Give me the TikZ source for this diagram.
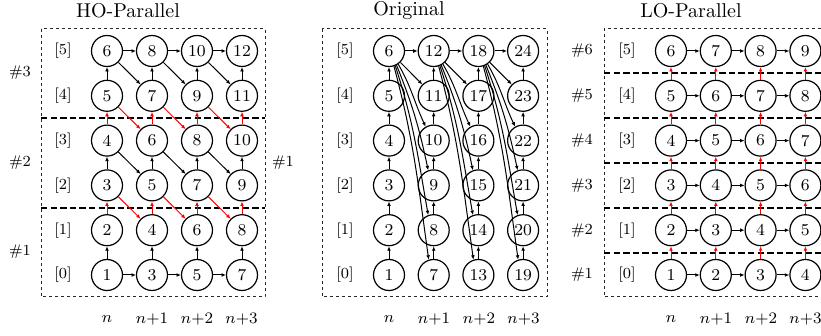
\documentclass[tikz,border=0pt]{standalone}
\usetikzlibrary{arrows.meta}
\tikzset{
  st/.style={circle, draw, line width=0.6pt, minimum size=15.5pt, inner sep=0pt,
             font=\fontsize{8.3}{10}\selectfont},
  lab/.style={font=\fontsize{7.7}{9}\selectfont, inner sep=0pt},
  ttl/.style={font=\fontsize{10}{12}\selectfont, inner sep=0pt},
  arr/.style={-{Latex[length=2.2pt,width=1.9pt]}, line width=0.5pt},
  frame/.style={dash pattern=on 1.6pt off 1.4pt, line width=0.5pt, black!85},
  divide/.style={dash pattern=on 3.2pt off 1.6pt, line width=0.7pt},
}
\begin{document}
\begin{tikzpicture}[x=0.5pt,y=-0.5pt]
\useasboundingbox (0,0) rectangle (821,336);
\clip (0,0) rectangle (821,336);

% ---------------- HO-Parallel ----------------
\node[ttl] (tH) at (128,11) {HO-Parallel};
\draw[frame] (41,29) rectangle (265,297);
\draw[divide] (41,118) -- (265,118);
\draw[divide] (41,208) -- (265,208);
\foreach \r in {0,...,5} {
  \node[lab] (rH-\r) at (63,{51+44.8*(5-\r)}) {[\r]};
  \foreach \c in {0,...,3} {
    \pgfmathtruncatemacro\v{\r+1+2*\c}
    \node[st] (H-\r-\c) at ({107+45*\c},{51+44.8*(5-\r)}) {\v};
  }
}
\node[lab] (hH-3) at (20,73) {\#3};
\node[lab] (hH-2) at (20,163) {\#2};
\node[lab] (hH-1) at (20,252) {\#1};
% vertical steps, red where a group boundary is crossed
\foreach \r/\col in {0/black,1/red,2/black,3/red,4/black} {
  \pgfmathtruncatemacro\rn{\r+1}
  \foreach \c in {0,...,3} {
    \draw[arr,color=\col] (H-\r-\c.north) -- (H-\rn-\c.south);
  }
}
% diagonal steps
\foreach \r/\col in {2/red,3/black,4/red,5/black} {
  \pgfmathtruncatemacro\rm{\r-1}
  \foreach \c in {0,1,2} {
    \pgfmathtruncatemacro\cn{\c+1}
    \draw[arr,color=\col] (H-\r-\c.-45) -- (H-\rm-\cn.135);
  }
}
% horizontal steps in bottom and top rows
\foreach \r in {0,5} {
  \foreach \c in {0,1,2} {
    \pgfmathtruncatemacro\cn{\c+1}
    \draw[arr] (H-\r-\c.east) -- (H-\r-\cn.west);
  }
}

% ---------------- Original ----------------
\node[ttl] (tO) at (409,11) {Original};
\draw[frame] (322,29) rectangle (547,297);
\foreach \r in {0,...,5} {
  \node[lab] (rO-\r) at (345,{51+44.8*(5-\r)}) {[\r]};
  \foreach \c in {0,...,3} {
    \pgfmathtruncatemacro\v{6*\c+\r+1}
    \node[st] (O-\r-\c) at ({389+44.7*\c},{51+44.8*(5-\r)}) {\v};
  }
}
\node[lab] (hO-1) at (283,163) {\#1};
\foreach \r in {0,...,4} {
  \pgfmathtruncatemacro\rn{\r+1}
  \foreach \c in {0,...,3} {
    \draw[arr] (O-\r-\c.north) -- (O-\rn-\c.south);
  }
}
% fan from the top of each column to every node of the next column
\foreach \c in {0,1,2} {
  \pgfmathtruncatemacro\cn{\c+1}
  \draw[arr] (O-5-\c.east) -- (O-5-\cn.west);
  \draw[arr] (O-5-\c.-45) -- (O-4-\cn.135);
  \draw[arr] (O-5-\c.-55) to[out=-60,in=115] (O-3-\cn.120);
  \draw[arr] (O-5-\c.-62) to[out=-68,in=102] (O-2-\cn.110);
  \draw[arr] (O-5-\c.-67) to[out=-72,in=100] (O-1-\cn.110);
  \draw[arr] (O-5-\c.-72) to[out=-75,in=98] (O-0-\cn.108);
}

% ---------------- LO-Parallel ----------------
\node[ttl] (tL) at (691,11) {LO-Parallel};
\draw[frame] (845,29) -- (604,29) -- (604,297) -- (845,297);
\foreach \y in {73,118,163,208,253} {
  \draw[divide] (604,\y) -- (845,\y);
}
\foreach \r in {0,...,5} {
  \pgfmathtruncatemacro\g{\r+1}
  \node[lab] (rL-\r) at (627,{51+44.8*(5-\r)}) {[\r]};
  \node[lab] (hL-\r) at (582,{51+44.8*(5-\r)}) {\#\g};
  \foreach \c in {0,...,3} {
    \pgfmathtruncatemacro\v{\r+\c+1}
    \node[st] (L-\r-\c) at ({671+44.8*\c},{51+44.8*(5-\r)}) {\v};
  }
}
\foreach \r in {0,...,5} {
  \foreach \c in {0,1,2} {
    \pgfmathtruncatemacro\cn{\c+1}
    \draw[arr] (L-\r-\c.east) -- (L-\r-\cn.west);
  }
}
\foreach \r in {0,...,4} {
  \pgfmathtruncatemacro\rn{\r+1}
  \foreach \c in {0,...,3} {
    \draw[arr,color=red] (L-\r-\c.north) -- (L-\rn-\c.south);
  }
}

% ---------------- column labels ----------------
\foreach \p/\x in {H/107,O/389,L/671} {
  \node[lab] (\p-n0) at (\x,319) {$n$};
  \node[lab] (\p-n1) at (\x+45,319) {$n{+}1$};
  \node[lab] (\p-n2) at (\x+90,319) {$n{+}2$};
  \node[lab] (\p-n3) at (\x+134.5,319) {$n{+}3$};
}
\end{tikzpicture}
\end{document}
